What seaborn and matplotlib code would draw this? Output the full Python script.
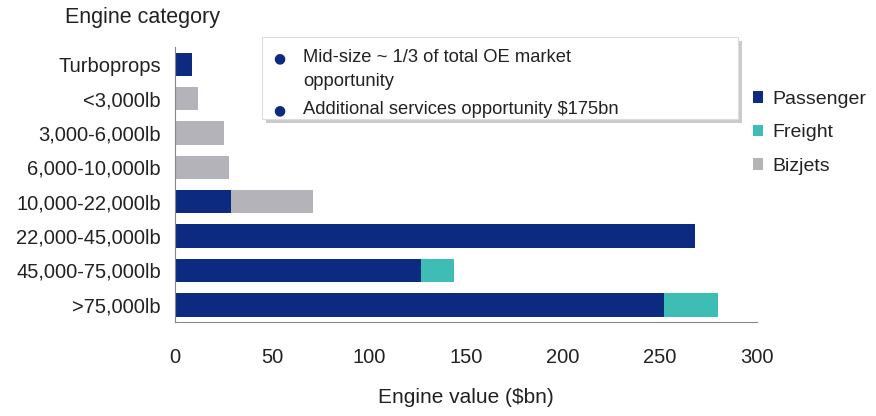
import matplotlib
matplotlib.use("Agg")
import matplotlib.pyplot as plt
import matplotlib.patheffects as pe
from matplotlib.patches import Rectangle, Patch
import seaborn as sns
import pandas as pd
import numpy as np

categories = ["Turboprops", "<3,000lb", "3,000-6,000lb", "6,000-10,000lb",
              "10,000-22,000lb", "22,000-45,000lb", "45,000-75,000lb", ">75,000lb"]
passenger = [9, 0, 0, 0, 29, 268, 127, 252]
freight = [0, 0, 0, 0, 0, 0, 17, 28]
bizjets = [0, 12, 25, 28, 42, 0, 0, 0]
series_names = ["Passenger", "Freight", "Bizjets"]
xticks = [0, 50, 100, 150, 200, 250, 300]

colors = {"Passenger": "#0c2a80", "Freight": "#3dbdb4", "Bizjets": "#b3b3b9"}

sns.set_style("white")
plt.rcParams["font.family"] = ["Liberation Sans", "DejaVu Sans"]

fig = plt.figure(figsize=(8.76, 4.16), dpi=100)
ax = fig.add_axes([175 / 876, 1 - 322 / 416, (757 - 175) / 876, (322 - 47) / 416])

p = np.array(passenger, dtype=float)
f = np.array(freight, dtype=float)
b = np.array(bizjets, dtype=float)
layers = [("Bizjets", p + f + b), ("Freight", p + f), ("Passenger", p)]
for name, vals in layers:
    df = pd.DataFrame({"cat": categories, "val": vals})
    sns.barplot(data=df, x="val", y="cat", orient="h", color=colors[name],
                saturation=1, width=0.68, ax=ax, order=categories, linewidth=0)

ax.set_xlim(0, 300)
ax.set_ylim(len(categories) - 0.5, -0.5)
ax.set_xticks(xticks)
ax.set_xticklabels([str(t) for t in xticks], fontsize=14.5, color="#222222")
ax.set_yticks(range(len(categories)))
ax.set_yticklabels(categories, fontsize=14.5, color="#222222")
ax.set_yticks(np.arange(-0.5, len(categories) + 0.5, 1), minor=True)
ax.tick_params(axis="y", which="major", length=0, pad=10)
ax.tick_params(axis="y", which="minor", length=4, color="#888888", width=0.8, direction="out")
ax.tick_params(axis="x", which="major", length=5, color="#888888", width=0.8, direction="out", pad=14)
ax.set_xlabel("Engine value ($bn)", fontsize=15, color="#222222", labelpad=15)
ax.set_ylabel("")
for s in ["top", "right"]:
    ax.spines[s].set_visible(False)
for s in ["left", "bottom"]:
    ax.spines[s].set_color("#888888")
    ax.spines[s].set_linewidth(0.8)

fig.text(65 / 876, 1 - 18 / 416, "Engine category", fontsize=15.5, color="#222222", va="center", ha="left")

# annotation box
bx0, by0, bx1, by1 = 262, 37, 738, 119
box = Rectangle((bx0 / 876, 1 - by1 / 416), (bx1 - bx0) / 876, (by1 - by0) / 416,
                transform=fig.transFigure, facecolor="white", edgecolor="#dddddd", linewidth=0.8,
                path_effects=[pe.SimplePatchShadow(offset=(3, -3), shadow_rgbFace="#999999", alpha=0.5), pe.Normal()],
                zorder=5)
fig.add_artist(box)
lines = [(58, "Mid-size ~ 1/3 of total OE market", True), (82, "opportunity", False),
         (110, "Additional services opportunity $175bn", True)]
for y, t, bullet in lines:
    if bullet:
        fig.text(279 / 876, 1 - y / 416, "●", fontsize=10, color="#0c2a80", va="center", ha="center",
                 family=["DejaVu Sans"], zorder=6)
    fig.text(303 / 876, 1 - y / 416, t, fontsize=13.2, color="#222222", va="center", ha="left", zorder=6)

handles = [Patch(facecolor=colors[n], edgecolor="none") for n in series_names]
leg = fig.legend(handles, series_names, loc="upper left", bbox_to_anchor=(745 / 876, 1 - 83 / 416),
                 frameon=False, fontsize=14, handlelength=0.55, handleheight=0.55,
                 handletextpad=0.45, labelspacing=0.85, borderaxespad=0)
for t in leg.get_texts():
    t.set_color("#222222")

fig.savefig("out.png", dpi=100)
